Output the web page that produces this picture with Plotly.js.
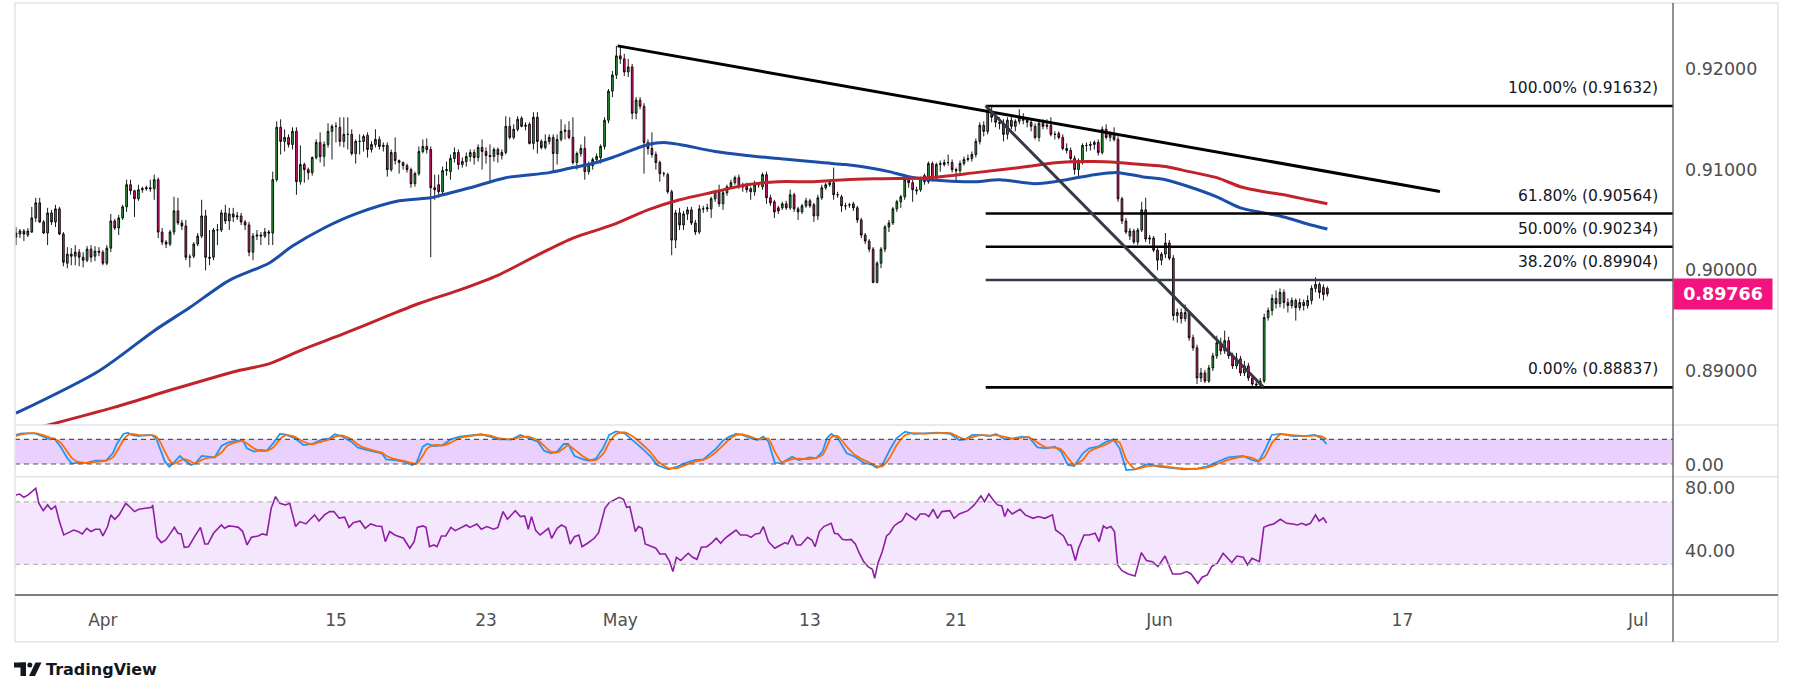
<!DOCTYPE html>
<html>
<head>
<meta charset="utf-8">
<script src="https://cdn.plot.ly/plotly-3.0.1.min.js"></script>
<style>html,body{margin:0;padding:0;background:#fff;}#chart{width:1793px;height:696px;}</style>
</head>
<body>
<div id="chart"></div>
<script>
// ---------------- DATA (4h candles, index = candle number) ----------------
const open = [
0.9033,0.9036,0.9039,0.9035,0.9038,0.9052,0.9067,0.9048,0.9037,0.9057,
0.9048,0.9061,0.9036,0.9007,0.9016,0.9014,0.9018,0.9013,0.9010,0.9021,
0.9014,0.9019,0.9018,0.9007,0.9022,0.9049,0.9042,0.9052,0.9063,0.9085,
0.9079,0.9071,0.9080,0.9081,0.9082,0.9081,0.9090,0.9038,0.9028,0.9026,
0.9038,0.9059,0.9047,0.9044,0.9013,0.9014,0.9026,0.9034,0.9054,0.9013,
0.9013,0.9040,0.9040,0.9057,0.9049,0.9056,0.9053,0.9054,0.9048,0.9045,
0.9018,0.9034,0.9035,0.9034,0.9038,0.9037,0.9090,0.9142,0.9128,0.9132,
0.9125,0.9138,0.9088,0.9105,0.9100,0.9097,0.9112,0.9127,0.9113,0.9125,
0.9138,0.9143,0.9142,0.9128,0.9135,0.9135,0.9116,0.9128,0.9128,0.9134,
0.9120,0.9125,0.9130,0.9123,0.9124,0.9100,0.9117,0.9109,0.9107,0.9104,
0.9100,0.9086,0.9096,0.9118,0.9123,0.9120,0.9082,0.9085,0.9078,0.9099,
0.9098,0.9111,0.9117,0.9105,0.9108,0.9113,0.9117,0.9112,0.9122,0.9118,
0.9114,0.9113,0.9120,0.9114,0.9117,0.9143,0.9132,0.9140,0.9151,0.9143,
0.9145,0.9126,0.9152,0.9128,0.9122,0.9128,0.9132,0.9116,0.9130,0.9138,
0.9139,0.9132,0.9107,0.9116,0.9121,0.9098,0.9104,0.9110,0.9112,0.9123,
0.9149,0.9178,0.9194,0.9213,0.9210,0.9197,0.9202,0.9156,0.9169,0.9163,
0.9127,0.9121,0.9115,0.9107,0.9096,0.9095,0.9078,0.9030,0.9057,0.9045,
0.9056,0.9060,0.9047,0.9038,0.9061,0.9061,0.9061,0.9071,0.9078,0.9066,
0.9077,0.9083,0.9087,0.9092,0.9083,0.9084,0.9081,0.9078,0.9085,0.9083,
0.9095,0.9072,0.9068,0.9062,0.9062,0.9066,0.9062,0.9075,0.9061,0.9058,
0.9064,0.9069,0.9065,0.9054,0.9072,0.9082,0.9085,0.9087,0.9075,0.9073,
0.9064,0.9065,0.9066,0.9062,0.9050,0.9035,0.9029,0.9021,0.8988,0.9007,
0.9021,0.9043,0.9047,0.9061,0.9068,0.9073,0.9090,0.9087,0.9080,0.9080,
0.9094,0.9088,0.9106,0.9092,0.9105,0.9105,0.9107,0.9107,0.9100,0.9099,
0.9106,0.9110,0.9111,0.9115,0.9128,0.9144,0.9138,0.9158,0.9152,0.9147,
0.9146,0.9135,0.9149,0.9143,0.9148,0.9152,0.9149,0.9147,0.9143,0.9132,
0.9146,0.9143,0.9144,0.9135,0.9136,0.9132,0.9121,0.9119,0.9111,0.9100,
0.9109,0.9124,0.9124,0.9125,0.9127,0.9117,0.9140,0.9132,0.9135,0.9130,
0.9071,0.9049,0.9034,0.9039,0.9028,0.9040,0.9060,0.9031,0.9032,0.9020,
0.9010,0.9016,0.9027,0.9012,0.8955,0.8958,0.8952,0.8958,0.8933,0.8923,
0.8893,0.8898,0.8890,0.8903,0.8915,0.8928,0.8920,0.8930,0.8915,0.8905,
0.8912,0.8898,0.8905,0.8893,0.8887,0.8886,0.8890,0.8953,0.8960,0.8972,
0.8967,0.8978,0.8968,0.8965,0.8970,0.8963,0.8968,0.8965,0.8970,0.8982,
0.8986,0.8983,0.8982];
const high = [
0.9043,0.9041,0.9041,0.9042,0.9063,0.9072,0.9072,0.9050,0.9062,0.9060,
0.9065,0.9063,0.9038,0.9023,0.9022,0.9025,0.9021,0.9018,0.9024,0.9025,
0.9024,0.9023,0.9020,0.9025,0.9056,0.9051,0.9055,0.9065,0.9090,0.9090,
0.9080,0.9085,0.9083,0.9084,0.9090,0.9095,0.9092,0.9042,0.9030,0.9040,
0.9073,0.9072,0.9050,0.9050,0.9016,0.9028,0.9037,0.9070,0.9060,0.9040,
0.9042,0.9046,0.9060,0.9065,0.9062,0.9062,0.9058,0.9057,0.9050,0.9048,
0.9037,0.9040,0.9038,0.9042,0.9040,0.9098,0.9148,0.9150,0.9140,0.9135,
0.9142,0.9142,0.9124,0.9107,0.9102,0.9113,0.9130,0.9137,0.9128,0.9146,
0.9145,0.9147,0.9152,0.9152,0.9152,0.9140,0.9130,0.9135,0.9135,0.9137,
0.9128,0.9140,0.9133,0.9127,0.9127,0.9120,0.9132,0.9110,0.9108,0.9106,
0.9102,0.9098,0.9123,0.9130,0.9131,0.9123,0.9095,0.9095,0.9103,0.9108,
0.9115,0.9122,0.9120,0.9112,0.9117,0.9120,0.9120,0.9125,0.9130,0.9122,
0.9125,0.9122,0.9122,0.9120,0.9153,0.9152,0.9145,0.9153,0.9153,0.9147,
0.9147,0.9157,0.9157,0.9130,0.9135,0.9135,0.9135,0.9135,0.9150,0.9145,
0.9148,0.9152,0.9118,0.9125,0.9133,0.9108,0.9112,0.9116,0.9125,0.9152,
0.9180,0.9198,0.9223,0.9222,0.9215,0.9210,0.9205,0.9172,0.9172,0.9166,
0.9130,0.9137,0.9118,0.9109,0.9098,0.9097,0.9080,0.9060,0.9062,0.9059,
0.9063,0.9063,0.9050,0.9065,0.9064,0.9066,0.9073,0.9080,0.9085,0.9079,
0.9085,0.9090,0.9094,0.9095,0.9087,0.9087,0.9083,0.9089,0.9087,0.9097,
0.9098,0.9075,0.9070,0.9064,0.9068,0.9069,0.9080,0.9077,0.9063,0.9066,
0.9072,0.9071,0.9067,0.9075,0.9085,0.9087,0.9089,0.9102,0.9078,0.9075,
0.9067,0.9067,0.9068,0.9064,0.9052,0.9037,0.9031,0.9023,0.9009,0.9023,
0.9045,0.9050,0.9063,0.9070,0.9075,0.9093,0.9093,0.9090,0.9083,0.9093,
0.9096,0.9108,0.9108,0.9107,0.9109,0.9110,0.9115,0.9110,0.9102,0.9109,
0.9113,0.9115,0.9118,0.9131,0.9147,0.9148,0.9162,0.9163,0.9155,0.9152,
0.9150,0.9152,0.9155,0.9150,0.9160,0.9156,0.9152,0.9150,0.9146,0.9150,
0.9150,0.9150,0.9152,0.9138,0.9138,0.9135,0.9126,0.9122,0.9114,0.9111,
0.9126,0.9127,0.9128,0.9129,0.9130,0.9143,0.9145,0.9138,0.9142,0.9133,
0.9073,0.9052,0.9042,0.9041,0.9042,0.9068,0.9072,0.9035,0.9034,0.9022,
0.9018,0.9037,0.9030,0.9015,0.8962,0.8962,0.8966,0.8960,0.8936,0.8926,
0.8903,0.8901,0.8906,0.8918,0.8935,0.8933,0.8940,0.8934,0.8918,0.8918,
0.8915,0.8910,0.8908,0.8896,0.8892,0.8893,0.8957,0.8963,0.8976,0.8980,
0.8982,0.8981,0.8972,0.8973,0.8972,0.8972,0.8971,0.8975,0.8985,0.8993,
0.8988,0.8986,0.8984];
const low = [
0.9025,0.9032,0.9029,0.9033,0.9037,0.9048,0.9047,0.9036,0.9025,0.9045,
0.9043,0.9035,0.9004,0.9002,0.9005,0.9005,0.9004,0.9003,0.9008,0.9008,
0.9009,0.9014,0.9005,0.9005,0.9018,0.9040,0.9035,0.9050,0.9058,0.9075,
0.9053,0.9069,0.9077,0.9079,0.9078,0.9070,0.9032,0.9025,0.9022,0.9024,
0.9035,0.9045,0.9040,0.9010,0.9003,0.9012,0.9024,0.9032,0.9000,0.9005,
0.9010,0.9025,0.9038,0.9046,0.9040,0.9048,0.9050,0.9045,0.9040,0.9014,
0.9010,0.9030,0.9025,0.9032,0.9025,0.9025,0.9088,0.9115,0.9118,0.9122,
0.9120,0.9075,0.9085,0.9087,0.9090,0.9094,0.9110,0.9107,0.9103,0.9122,
0.9110,0.9127,0.9123,0.9122,0.9120,0.9114,0.9106,0.9115,0.9118,0.9112,
0.9117,0.9122,0.9120,0.9118,0.9093,0.9098,0.9105,0.9096,0.9100,0.9097,
0.9082,0.9083,0.9094,0.9116,0.9116,0.9013,0.9070,0.9072,0.9076,0.9094,
0.9090,0.9107,0.9100,0.9102,0.9103,0.9108,0.9105,0.9108,0.9100,0.9106,
0.9087,0.9108,0.9107,0.9110,0.9115,0.9130,0.9130,0.9138,0.9142,0.9139,
0.9125,0.9120,0.9116,0.9120,0.9120,0.9125,0.9097,0.9105,0.9128,0.9130,
0.9130,0.9105,0.9100,0.9113,0.9090,0.9095,0.9100,0.9108,0.9106,0.9120,
0.9146,0.9172,0.9190,0.9205,0.9193,0.9192,0.9150,0.9150,0.9160,0.9096,
0.9115,0.9112,0.9100,0.9088,0.9093,0.9076,0.9015,0.9022,0.9040,0.9040,
0.9050,0.9045,0.9035,0.9036,0.9057,0.9058,0.9052,0.9068,0.9063,0.9060,
0.9074,0.9081,0.9085,0.9081,0.9078,0.9077,0.9070,0.9074,0.9082,0.9080,
0.9066,0.9064,0.9052,0.9056,0.9060,0.9060,0.9060,0.9058,0.9050,0.9056,
0.9062,0.9062,0.9048,0.9050,0.9070,0.9080,0.9083,0.9070,0.9072,0.9058,
0.9060,0.9062,0.9059,0.9047,0.9032,0.9026,0.9018,0.8987,0.8987,0.9002,
0.9018,0.9038,0.9045,0.9058,0.9062,0.9070,0.9082,0.9068,0.9075,0.9078,
0.9085,0.9086,0.9088,0.9090,0.9098,0.9103,0.9104,0.9097,0.9088,0.9096,
0.9104,0.9108,0.9108,0.9112,0.9125,0.9133,0.9135,0.9147,0.9142,0.9140,
0.9128,0.9130,0.9140,0.9138,0.9145,0.9145,0.9142,0.9138,0.9130,0.9128,
0.9140,0.9140,0.9133,0.9130,0.9130,0.9119,0.9116,0.9108,0.9095,0.9092,
0.9105,0.9118,0.9119,0.9120,0.9114,0.9115,0.9130,0.9128,0.9128,0.9068,
0.9046,0.9036,0.9030,0.9026,0.9025,0.9038,0.9028,0.9026,0.9018,0.9000,
0.9005,0.9012,0.9010,0.8950,0.8948,0.8947,0.8949,0.8930,0.8920,0.8887,
0.8889,0.8888,0.8888,0.8900,0.8912,0.8916,0.8917,0.8912,0.8902,0.8902,
0.8895,0.8895,0.8890,0.8885,0.8884,0.88837,0.8888,0.8950,0.8955,0.8962,
0.8963,0.8962,0.8958,0.8962,0.8950,0.8960,0.8960,0.8962,0.8966,0.8978,
0.8972,0.8970,0.8974];
const close = [
0.9037,0.9039,0.9036,0.9039,0.9052,0.9067,0.9048,0.9037,0.9057,0.9048,
0.9061,0.9036,0.9008,0.9016,0.9014,0.9018,0.9013,0.9010,0.9021,0.9013,
0.9019,0.9018,0.9007,0.9022,0.9049,0.9042,0.9052,0.9063,0.9085,0.9079,
0.9071,0.9080,0.9081,0.9082,0.9081,0.9090,0.9038,0.9028,0.9026,0.9038,
0.9059,0.9047,0.9044,0.9013,0.9013,0.9026,0.9034,0.9054,0.9013,0.9012,
0.9040,0.9040,0.9057,0.9049,0.9056,0.9053,0.9054,0.9048,0.9045,0.9018,
0.9034,0.9035,0.9034,0.9038,0.9037,0.9090,0.9142,0.9128,0.9132,0.9125,
0.9138,0.9088,0.9105,0.9100,0.9097,0.9112,0.9127,0.9113,0.9125,0.9138,
0.9143,0.9143,0.9128,0.9135,0.9135,0.9116,0.9128,0.9128,0.9133,0.9120,
0.9125,0.9130,0.9123,0.9124,0.9100,0.9117,0.9109,0.9107,0.9104,0.9100,
0.9086,0.9096,0.9118,0.9123,0.9120,0.9082,0.9080,0.9078,0.9099,0.9100,
0.9111,0.9117,0.9105,0.9108,0.9113,0.9117,0.9112,0.9122,0.9118,0.9114,
0.9113,0.9120,0.9115,0.9117,0.9143,0.9132,0.9140,0.9150,0.9143,0.9144,
0.9126,0.9152,0.9128,0.9122,0.9128,0.9132,0.9116,0.9130,0.9138,0.9139,
0.9132,0.9107,0.9116,0.9121,0.9098,0.9105,0.9110,0.9113,0.9123,0.9149,
0.9178,0.9194,0.9213,0.9210,0.9197,0.9202,0.9156,0.9169,0.9163,0.9127,
0.9121,0.9115,0.9107,0.9096,0.9096,0.9078,0.9030,0.9057,0.9045,0.9056,
0.9060,0.9047,0.9038,0.9061,0.9061,0.9062,0.9071,0.9078,0.9066,0.9077,
0.9083,0.9087,0.9092,0.9083,0.9083,0.9080,0.9078,0.9085,0.9085,0.9095,
0.9072,0.9067,0.9058,0.9059,0.9066,0.9062,0.9075,0.9061,0.9058,0.9064,
0.9069,0.9064,0.9054,0.9072,0.9082,0.9085,0.9087,0.9075,0.9075,0.9064,
0.9064,0.9065,0.9062,0.9050,0.9035,0.9029,0.9021,0.8988,0.9007,0.9021,
0.9043,0.9047,0.9061,0.9068,0.9073,0.9090,0.9087,0.9080,0.9079,0.9091,
0.9088,0.9106,0.9092,0.9105,0.9106,0.9107,0.9107,0.9100,0.9099,0.9106,
0.9110,0.9111,0.9115,0.9128,0.9144,0.9138,0.9158,0.9152,0.9147,0.9146,
0.9135,0.9149,0.9143,0.9148,0.9153,0.9149,0.9147,0.9143,0.9132,0.9146,
0.9143,0.9144,0.9135,0.9135,0.9132,0.9121,0.9119,0.9111,0.9100,0.9109,
0.9124,0.9124,0.9125,0.9127,0.9117,0.9140,0.9132,0.9135,0.9130,0.9071,
0.9049,0.9038,0.9039,0.9028,0.9040,0.9060,0.9031,0.9032,0.9020,0.9010,
0.9016,0.9027,0.9012,0.8955,0.8958,0.8952,0.8958,0.8933,0.8923,0.8893,
0.8898,0.8890,0.8903,0.8915,0.8928,0.8920,0.8930,0.8915,0.8905,0.8912,
0.8898,0.8905,0.8893,0.8887,0.8886,0.8890,0.8953,0.8960,0.8972,0.8967,
0.8978,0.8968,0.8965,0.8970,0.8963,0.8968,0.8965,0.8970,0.8982,0.8986,
0.8978,0.8976,0.89766];

// Moving averages (blue = faster, red = slower), read at candle indices
const blueX = [0,21,35,44,54,64,70,78,86,97,105,108,115,124,135,141,145,151,160,164,168,177,185,193,204,210,214,221,226,235,243,249,258,266,273,279,285,291,297,304,310,316,321,327,332];
const blueMA = [0.8858,0.8900,0.8940,0.8963,0.8990,0.9007,0.9024,0.9042,0.9056,0.9069,0.9072,0.9075,0.9082,0.9092,0.9097,0.9102,0.9105,0.9112,0.9125,0.9127,0.9125,0.9118,0.9114,0.9111,0.9107,0.9105,0.9103,0.9098,0.9093,0.9089,0.9088,0.9090,0.9086,0.9090,0.9095,0.9097,0.9093,0.9090,0.9083,0.9073,0.9062,0.9057,0.9053,0.9046,0.9041];
const redX = [7,25,40,56,64,73,83,93,102,112,122,132,141,151,160,168,177,185,193,202,210,219,231,243,256,264,273,279,285,291,297,304,310,316,321,327,332];
const redMA = [0.8845,0.8864,0.8882,0.8900,0.8907,0.8922,0.8937,0.8953,0.8967,0.8980,0.8995,0.9015,0.9032,0.9045,0.9060,0.9070,0.9078,0.9085,0.9088,0.9088,0.9090,0.9091,0.9092,0.9097,0.9103,0.9107,0.9108,0.9107,0.9105,0.9103,0.9098,0.9092,0.9083,0.9078,0.9075,0.9070,0.9066];

// Stochastic %K (blue) and %D (orange)
const stochX = [0,1.4,4.7,6.9,8.6,9.7,11.3,13,14.1,15.7,17.9,20.1,22.8,24.5,25.6,27.2,28.3,29.4,31.1,32.7,34.4,35.5,36.6,37.7,38.8,39.9,41.5,42.6,44.3,45.4,47,48.6,50.3,52,53.6,55.8,57.4,58.5,60.2,61.8,63.5,65.1,66.8,68.4,70.6,72.8,75,77.2,79.4,80.7,82.7,84.9,86.5,88.2,90.4,92.6,93.7,95.9,98.1,100.3,101.4,103,104.1,105.8,108,110.1,112.3,115.6,117.8,120,122.2,125.5,127.7,129.9,132.1,133.7,135.4,137,138.7,139.8,141.4,143.6,145.3,146.9,148.6,150.2,151.9,154.1,156.3,158.5,160.7,162.3,165.2,167.4,169.6,171.8,174,175.7,177.3,179,180.6,182.3,183.9,186.1,187.7,189.2,190.5,192.1,193.8,196.5,198.2,200.9,202.6,204.2,205.3,206.4,208.1,210.3,212.4,214.6,216.8,217.9,219.3,221.2,222.9,225.1,227.3,230,233.3,236.6,238.8,240.4,242.1,244.3,246.5,248.1,250.3,252.5,254.7,256.4,258.6,260.8,263,264.6,266.3,267.9,270.1,271.7,273.9,276.1,277.8,279.4,281.1,283.3,286.6,289.3,292.6,295.9,299.2,301.4,303.6,306.9,310.7,312.9,314.6,316.2,317.9,320.1,323.3,326.6,328.8,330.5,331.8];
const stochK = [90.5,94.6,94.6,86.5,80,82,62,34,21.6,23,23,28,28,46,70,93,96,90,88,90,90,82,54,25.7,13.5,23,39.5,29.7,17.6,21.6,39.5,37.8,36,63.8,72,76.8,76.8,58,50,54,52.4,70,93,91.4,82.4,66,68.6,78.4,82.4,92,86.5,74.3,60.5,55.7,50,46,31.3,29.7,25.7,17.6,23,62,68.6,63.8,66,80,86.5,90.5,92.2,86.5,80,80,90.5,82.4,74.3,52.4,46,50,68.6,68.6,39.5,31.3,28,34,58,90.5,99,94.6,76.8,58,37.8,17.6,7,13.5,23,29.7,31.3,46,58,76.8,86.5,93,90.5,82.4,78.4,86.5,74.3,23,21.6,37.8,29.7,36,34,50,82.4,93,82.4,46,37.8,23,17.6,11,17.6,54,82.4,98.6,93,94.6,96.2,93,78.4,80,90.5,90.5,88,93,80,82.4,86.5,84.9,60.5,58,62,50,17.6,15.2,46,58,62,74.3,80,58,5.4,7,20,13.5,11,7,9.4,13.5,23,36,39.5,29.7,25.7,54,90.5,93,88,88,90.5,82.4,68.6];
const stochD = [88,92,95,90,84,81,72,50,35,25,23,25,28,36,52,78,90,93,90,89,90,87,72,50,30,20,28,32,26,21,30,35,37,48,65,73,76,70,58,52,52,60,80,90,86,74,68,74,80,86,89,80,68,59,53,48,40,32,28,22,20,40,58,66,65,72,83,89,91,89,83,80,85,86,78,64,50,48,58,66,55,38,30,30,44,72,92,97,86,68,48,28,10,10,18,26,30,38,50,65,80,90,92,86,80,80,82,50,25,32,33,32,35,42,62,85,88,62,42,30,20,15,14,35,65,90,95,94,95,95,85,80,85,90,89,90,86,81,84,85,72,60,60,56,35,18,30,50,60,68,77,72,30,8,15,16,12,9,8,11,18,30,38,35,28,38,70,92,90,88,89,87,80];

// RSI
const rsiX = [0,0.9,2,3.1,5,5.8,6.9,8,8.9,10,11,12.1,13.3,14.6,15.7,16.8,17.9,19,20.1,21.2,22,23.2,24,25,26.1,27.8,28.9,30,31.1,32.7,34.4,34.6,35.7,36.8,37.9,39,40.1,41,41.8,42.6,43.7,45.1,46.7,47.8,48.6,50,50.9,52,52.8,53.9,55.2,56.3,57.4,58.5,59.6,61.3,62.4,63.5,64.6,65.7,66.8,68.2,69.3,70.8,71.9,73.4,74.5,75.6,76.7,78.1,79.4,80.5,81.8,83.2,84.3,85.4,87.1,88.4,89.8,91.3,92.6,93.5,94.6,95.9,98.1,99.7,100.8,101.6,103,103.8,104.7,105.8,106.6,107.7,108.8,110.1,111.2,112.3,114,114.9,116.7,117.8,119.2,120.9,122,123.3,124.4,126.4,127.7,128.8,129.7,130.5,131.6,132.7,134.1,134.8,135.6,137,138.1,139.2,140.3,141.4,142.5,143.3,144.7,146.4,147.5,149.1,150.2,151.6,152.7,153.8,154.6,155.4,156.8,157.6,158.5,159.3,160.7,162,163,164.4,165.5,166.3,167.2,168.3,169.4,170.2,171.3,172.4,173.5,174.9,176.2,177.3,178.4,179.5,180.6,182.3,183.4,185,186.1,187.2,188.3,189.2,190.5,192.1,193.6,194.7,195.4,196.5,197.6,198.7,200.4,201.5,202.3,203.4,204.5,206.4,207.2,208.1,209.2,210.3,211.4,212.5,213.5,214.6,215.7,216.8,217.4,218.2,219.3,220.4,221.2,222.3,223.4,224.3,225.4,226.5,227.8,228.9,230.2,231.1,232.2,233.3,234.4,236.4,237.5,238.8,241,242.6,244.3,245.2,246.3,247.4,248.5,249.6,250.3,251.1,252.2,254.2,255.5,257.5,258.8,260.5,262.4,263.2,265.2,266.3,267.1,268.2,269,270.4,271.7,273.2,274.2,275.3,276.1,277.2,278.1,278.9,280,281.6,283.3,284.9,286.2,287.7,289.1,290.9,292.8,294.8,296.4,297.5,299.2,300.3,301.6,302.7,304.1,305.6,306.9,307.8,309.1,310.7,311.8,312.9,314.8,315.9,317.3,318.4,320.1,321.7,323.3,324.4,325.5,326.6,327.7,329,329.9,331,331.8];
const rsiV = [74.5,75.1,73,74.5,78.8,69.1,64.4,68.1,65.3,67.4,57.4,48.8,50.3,52,51,49.5,53.1,51,52.5,52.5,48.2,54.2,61.7,58.9,61.7,69.1,66.6,63.8,65.3,65.9,66.6,68.1,47.3,43.9,45.6,49.5,53.7,49.9,49.5,40.9,41.3,47.3,53.7,43,43,49.9,52,55.2,53.1,54.6,54.2,53.7,51,42.4,47.3,48.2,49.5,48.8,65.9,73.4,69.1,68.1,69.1,54.2,57.4,55.9,58.9,61.7,57.8,61.7,63.8,63.8,59.6,60.2,53.7,56.7,57.8,53.1,55.9,54.6,54.2,44.5,51,48.8,46.7,40.3,44.5,53.7,54.6,53.7,41.3,42.4,41.3,48.2,48.2,53.7,51.6,53.1,55.2,53.7,55.9,52.5,54.2,52.5,53.7,63.8,58.9,64.4,60.6,61,52.5,60.6,51.6,48.8,52,53.1,46.7,53.1,55.2,53.7,43,47.7,48.8,41.3,43.5,46.7,50.3,65.9,69.6,71.7,73,71.7,66.6,67,51,54.2,53.1,43,41.8,40.3,36.6,36.6,31.7,25.3,34.5,32.4,35.3,37.1,34.5,33.2,40.9,41.3,43.9,46.7,43.5,46.7,48.8,52,48.8,48.8,47.3,49.5,49.9,54.2,44.5,40.3,42.4,43.9,43,48.8,42.4,42.4,47.3,45.6,41.3,51,54.2,56.3,49.9,49.5,46,45.6,46,43,37.1,31.7,28.5,26.8,21,30.6,38.1,48.2,49.9,54.6,56.7,57.8,62.7,61,58.5,62.3,62.3,60.6,65.3,59.5,63.8,64.4,59.5,62.3,64.4,68.1,73.9,70.2,75.1,71.3,68.1,67.4,60.6,65.3,62.3,65.3,61.7,59.5,60.6,59.5,61.7,52,48.2,42.4,42.4,32.4,40.3,48.8,48.8,49.9,44.5,54.6,53.1,54.2,51,29.6,25.9,23.8,22.5,37.5,32.4,31.7,28.5,35.3,23.8,23.8,25.3,23.8,17.8,21.7,23.2,28.5,30.6,37.1,33.2,31.1,35.3,34.5,29.6,33.9,31.7,53.7,55.2,55.9,58.9,56.3,55.9,55.2,56.3,55.2,56.3,61.7,57.8,59.8,56.5];

// Drawings: fibonacci retracement and trend lines
const fibLevels = [0.91632, 0.90564, 0.90234, 0.89904, 0.88837];
const fibLabels = ['100.00% (0.91632)', '61.80% (0.90564)', '50.00% (0.90234)', '38.20% (0.89904)', '0.00% (0.88837)'];
const fibStartIdx = 245.5;
const trendUpperX = [152.3, 360.5], trendUpperY = [0.92229, 0.90783];
const trendSteepX = [245.5, 315.8], trendSteepY = [0.91632, 0.8884];

// Axis labels
const xTickIdx = [22, 81, 119, 153, 201, 238, 289.5, 351, 410.7];
const xTickText = ['Apr', '15', '23', 'May', '13', '21', 'Jun', '17', 'Jul'];
const priceTicks = [0.92, 0.91, 0.90, 0.89];
const rsiTicks = [80, 40];
const stochTicks = [0];
const lastPrice = close[close.length - 1];

// ---------------- LAYOUT ----------------
const L = 15, R = 1673, T = 3, B = 595;
const W = R - L, H = B - T;
const px = v => (v - L) / W;           // pixel -> paper x
const py = v => (B - v) / H;           // pixel -> paper y
const xMin = -0.25, xMax = 419.5;
const priceDom = [py(425), 1], stochDom = [py(476.7), py(425)], rsiDom = [0, py(476.7)];
const FONT = 'DejaVu Sans';
const idx = open.map((_, i) => i);

const GREEN = '#2faa3f', PINK = '#f2137e';
const traces = [];
traces.push({
  type: 'candlestick', x: idx, open: open, high: high, low: low, close: close,
  xaxis: 'x', yaxis: 'y',
  increasing: {line: {color: '#000', width: 0.9}, fillcolor: GREEN},
  decreasing: {line: {color: '#000', width: 0.9}, fillcolor: PINK},
  whiskerwidth: 0, hoverinfo: 'skip'
});
traces.push({type: 'scatter', mode: 'lines', x: blueX, y: blueMA, xaxis: 'x', yaxis: 'y',
  line: {color: '#1b4ea8', width: 3, shape: 'spline', smoothing: 0.8}, hoverinfo: 'skip'});
traces.push({type: 'scatter', mode: 'lines', x: redX, y: redMA, xaxis: 'x', yaxis: 'y',
  line: {color: '#c1232b', width: 3, shape: 'spline', smoothing: 0.8}, hoverinfo: 'skip'});
fibLevels.forEach((lv, k) => {
  traces.push({type: 'scatter', mode: 'lines', x: [fibStartIdx, xMax], y: [lv, lv], xaxis: 'x', yaxis: 'y',
    line: {color: k === 3 ? '#363a45' : '#000', width: 2.6}, hoverinfo: 'skip'});
});
traces.push({type: 'scatter', mode: 'lines', x: trendUpperX, y: trendUpperY, xaxis: 'x', yaxis: 'y',
  line: {color: '#000', width: 3}, hoverinfo: 'skip'});
traces.push({type: 'scatter', mode: 'lines', x: trendSteepX, y: trendSteepY, xaxis: 'x', yaxis: 'y',
  line: {color: '#363a45', width: 3}, hoverinfo: 'skip'});
traces.push({type: 'scatter', mode: 'lines', x: stochX, y: stochK, xaxis: 'x', yaxis: 'y2',
  line: {color: '#2196f3', width: 1.8}, hoverinfo: 'skip'});
traces.push({type: 'scatter', mode: 'lines', x: stochX, y: stochD, xaxis: 'x', yaxis: 'y2',
  line: {color: '#ff6d00', width: 1.8, shape: 'spline', smoothing: 0.5}, hoverinfo: 'skip'});
traces.push({type: 'scatter', mode: 'lines', x: rsiX, y: rsiV, xaxis: 'x', yaxis: 'y3',
  line: {color: '#8e1ea3', width: 1.6}, hoverinfo: 'skip'});

const AXC = '#555';
const shapes = [
  // indicator bands
  {type: 'rect', xref: 'paper', yref: 'y2', x0: 0, x1: 1, y0: 20, y1: 80, fillcolor: '#ead0fc', line: {width: 0}, layer: 'below'},
  {type: 'line', xref: 'paper', yref: 'y2', x0: 0, x1: 1, y0: 80, y1: 80, line: {color: '#555', width: 1.2, dash: '5px,4px'}},
  {type: 'line', xref: 'paper', yref: 'y2', x0: 0, x1: 1, y0: 20, y1: 20, line: {color: '#555', width: 1.2, dash: '5px,4px'}},
  {type: 'rect', xref: 'paper', yref: 'y3', x0: 0, x1: 1, y0: 30, y1: 70, fillcolor: '#f4e6fd', line: {width: 0}, layer: 'below'},
  {type: 'line', xref: 'paper', yref: 'y3', x0: 0, x1: 1, y0: 70, y1: 70, line: {color: '#b8b8b8', width: 1.2, dash: '5px,4px'}},
  {type: 'line', xref: 'paper', yref: 'y3', x0: 0, x1: 1, y0: 30, y1: 30, line: {color: '#b8b8b8', width: 1.2, dash: '5px,4px'}},
  // pane separators
  {type: 'line', xref: 'paper', yref: 'paper', x0: 0, x1: px(1778), y0: priceDom[0], y1: priceDom[0], line: {color: '#e0e3eb', width: 1.5}},
  {type: 'line', xref: 'paper', yref: 'paper', x0: 0, x1: px(1778), y0: stochDom[0], y1: stochDom[0], line: {color: '#e0e3eb', width: 1.5}},
  // outer border
  {type: 'rect', xref: 'paper', yref: 'paper', x0: 0, x1: px(1778), y0: py(641.7), y1: 1, line: {color: '#e0e3eb', width: 1.5}, fillcolor: 'rgba(0,0,0,0)'},
  // axis lines
  {type: 'line', xref: 'paper', yref: 'paper', x0: 0, x1: px(1778), y0: 0, y1: 0, line: {color: AXC, width: 1.3}},
  {type: 'line', xref: 'paper', yref: 'paper', x0: 1, x1: 1, y0: py(641.7), y1: 1, line: {color: AXC, width: 1.3}},
  // TradingView mark
  {type: 'rect', xref: 'paper', yref: 'paper', x0: px(14), x1: px(26), y0: py(667.5), y1: py(662.5), fillcolor: '#131722', line: {width: 0}},
  {type: 'rect', xref: 'paper', yref: 'paper', x0: px(20.5), x1: px(26), y0: py(676), y1: py(662.5), fillcolor: '#131722', line: {width: 0}},
  {type: 'circle', xref: 'paper', yref: 'paper', x0: px(27.3), x1: px(32.3), y0: py(667.5), y1: py(662.5), fillcolor: '#131722', line: {width: 0}},
  {type: 'path', xref: 'paper', yref: 'paper',
    path: `M ${px(29)} ${py(676)} L ${px(35.5)} ${py(662.5)} L ${px(41.5)} ${py(662.5)} L ${px(35)} ${py(676)} Z`,
    fillcolor: '#131722', line: {width: 0}}
];

const annotations = fibLevels.map((lv, k) => ({
  xref: 'paper', yref: 'y', x: px(1660), y: lv, xanchor: 'right', yanchor: 'middle', yshift: 18,
  text: fibLabels[k], showarrow: false, font: {family: FONT, size: 15.5, color: '#131722'}
}));
annotations.push({
  xref: 'paper', yref: 'y', x: 1, y: lastPrice, xanchor: 'left', yanchor: 'middle',
  text: '<b>' + lastPrice.toFixed(5) + '</b>', showarrow: false, bgcolor: PINK,
  width: 94, height: 26, borderpad: 2, align: 'center',
  font: {family: FONT, size: 17.5, color: '#fff'}
});
annotations.push({
  xref: 'paper', yref: 'paper', x: px(44), y: py(669), xanchor: 'left', yanchor: 'middle',
  text: '<b>TradingView</b>', showarrow: false, font: {family: FONT, size: 16, color: '#131722'}
});

const yCommon = {side: 'right', anchor: 'x', showgrid: false, zeroline: false, showline: false, ticks: '',
  tickfont: {family: FONT, size: 17.5, color: '#4f4f4f'}, ticklabelstandoff: 11, fixedrange: true};

const layout = {
  width: 1793, height: 696,
  margin: {l: L, r: 1793 - R, t: T, b: 696 - B, pad: 0},
  paper_bgcolor: '#fff', plot_bgcolor: '#fff',
  showlegend: false, hovermode: false, boxgap: 0.38,
  xaxis: {range: [xMin, xMax], anchor: 'y3', showgrid: false, zeroline: false, showline: false, ticks: '',
    tickvals: xTickIdx, ticktext: xTickText, tickfont: {family: FONT, size: 17, color: '#4f4f4f'},
    ticklabelstandoff: 13, rangeslider: {visible: false}, fixedrange: true},
  yaxis: Object.assign({}, yCommon, {domain: priceDom, range: [0.88463, 0.92655],
    tickvals: priceTicks, ticktext: priceTicks.map(v => v.toFixed(5))}),
  yaxis2: Object.assign({}, yCommon, {domain: stochDom, range: [-10.8, 114.7],
    tickvals: stochTicks, ticktext: stochTicks.map(v => v.toFixed(2)), ticklabelshift: -7}),
  yaxis3: Object.assign({}, yCommon, {domain: rsiDom, range: [10.3, 86.2],
    tickvals: rsiTicks, ticktext: rsiTicks.map(v => v.toFixed(2)), ticklabelshift: 2}),
  shapes: shapes, annotations: annotations
};

Plotly.newPlot('chart', traces, layout, {displayModeBar: false, staticPlot: true});
</script>
</body>
</html>
